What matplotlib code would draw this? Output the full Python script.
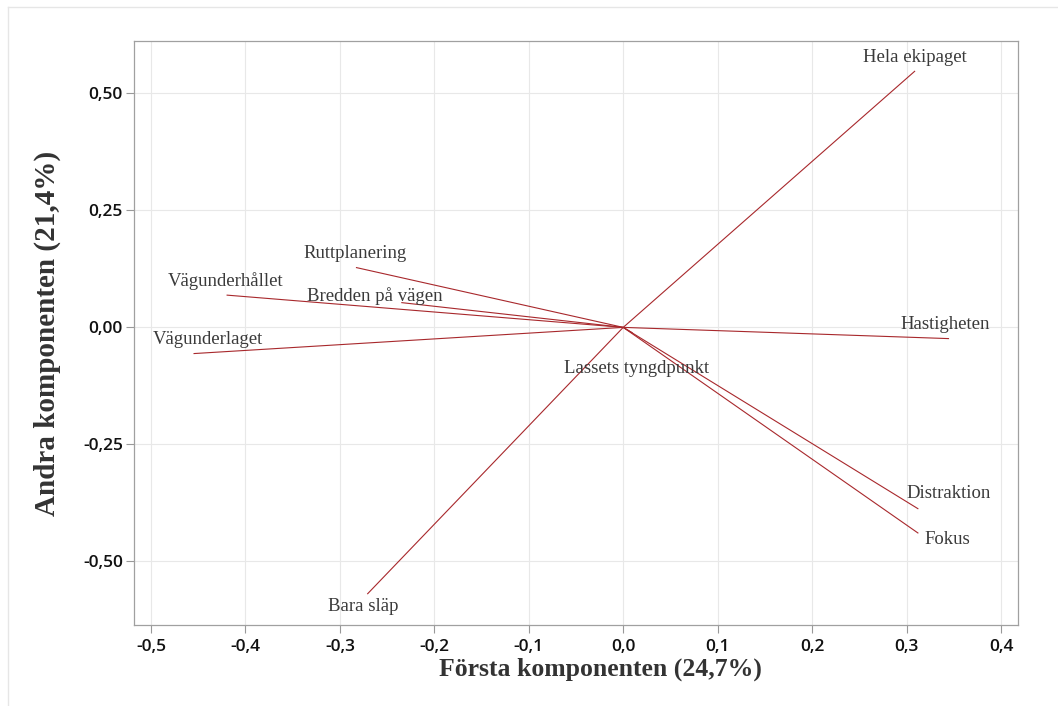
import matplotlib
matplotlib.use("Agg")
import matplotlib.pyplot as plt
from matplotlib.lines import Line2D

variables = ["Hela ekipaget", "Hastigheten", "Distraktion", "Fokus", "Bara släp",
             "Ruttplanering", "Vägunderhållet", "Bredden på vägen", "Vägunderlaget",
             "Lassets tyngdpunkt"]
pc1 = [0.309, 0.345, 0.3125, 0.3125, -0.271, -0.283, -0.420, -0.235, -0.455, 0.010]
pc2 = [0.548, -0.024, -0.388, -0.440, -0.570, 0.128, 0.069, 0.053, -0.056, -0.012]

# label offsets in pixels (dx, dy)
label_offsets = [(0, 13), (-4, 14), (30, 15), (29, -6), (-4, -12),
                 (-1, 14), (-1, 14), (-26, 7), (14, 14), (4, -35)]

xticks = [-0.5, -0.4, -0.3, -0.2, -0.1, 0.0, 0.1, 0.2, 0.3, 0.4]
yticks = [-0.50, -0.25, 0.00, 0.25, 0.50]

fig = plt.figure(figsize=(10.58, 7.06), dpi=100)
ax = fig.add_axes([134/1058, 1 - 625/706, (1018-134)/1058, (625-41)/706])

for x, y, name, off in zip(pc1, pc2, variables, label_offsets):
    ax.plot([0, x], [0, y], color="#a8282c", lw=0.8, solid_capstyle="butt")
    ax.annotate(name, (x, y), xytext=off, textcoords="offset pixels",
                ha="center", va="center", fontsize=13.5, color="#3a3a3a",
                family="Liberation Serif")

ax.set_xlim(-0.518, 0.418)
ax.set_ylim(-0.636, 0.612)
ax.set_xticks(xticks)
ax.set_yticks(yticks)
ax.set_xticklabels([f"{v:.1f}".replace(".", ",") for v in xticks],
                   family="Open Sans", fontsize=12.5, fontweight="semibold")
ax.set_yticklabels([f"{v:.2f}".replace(".", ",") for v in yticks],
                   family="Open Sans", fontsize=12.5, fontweight="semibold")
ax.tick_params(axis="both", direction="out", length=6, width=0.8, color="#999999",
               labelcolor="#111111")
ax.tick_params(axis="y", pad=2)
ax.tick_params(axis="x", pad=4)
ax.grid(True, color="#e8e8e8", lw=0.8)
ax.set_axisbelow(True)
for s in ax.spines.values():
    s.set_color("#a0a0a0")
    s.set_linewidth(0.9)

ax.set_xlabel("Första komponenten (24,7%)", family="Liberation Serif",
              fontweight="bold", fontsize=18.5, color="#333333")
ax.xaxis.set_label_coords((600 - 134) / 884, -(669 - 625) / 584)
ax.xaxis.label.set_va("center")
ax.set_ylabel("Andra komponenten (21,4%)", family="Liberation Serif",
              fontweight="bold", fontsize=21, color="#333333")
ax.yaxis.set_label_coords(-(134 - 47) / 884, 0.5)
ax.yaxis.label.set_va("center")

# outer light frame (left and top edges)
fig.add_artist(Line2D([8/1058, 8/1058], [0, 1 - 7/706], transform=fig.transFigure,
                      color="#e6e6e6", lw=1))
fig.add_artist(Line2D([8/1058, 1], [1 - 7/706, 1 - 7/706], transform=fig.transFigure,
                      color="#e6e6e6", lw=1))

fig.savefig("out.png", dpi=100)
